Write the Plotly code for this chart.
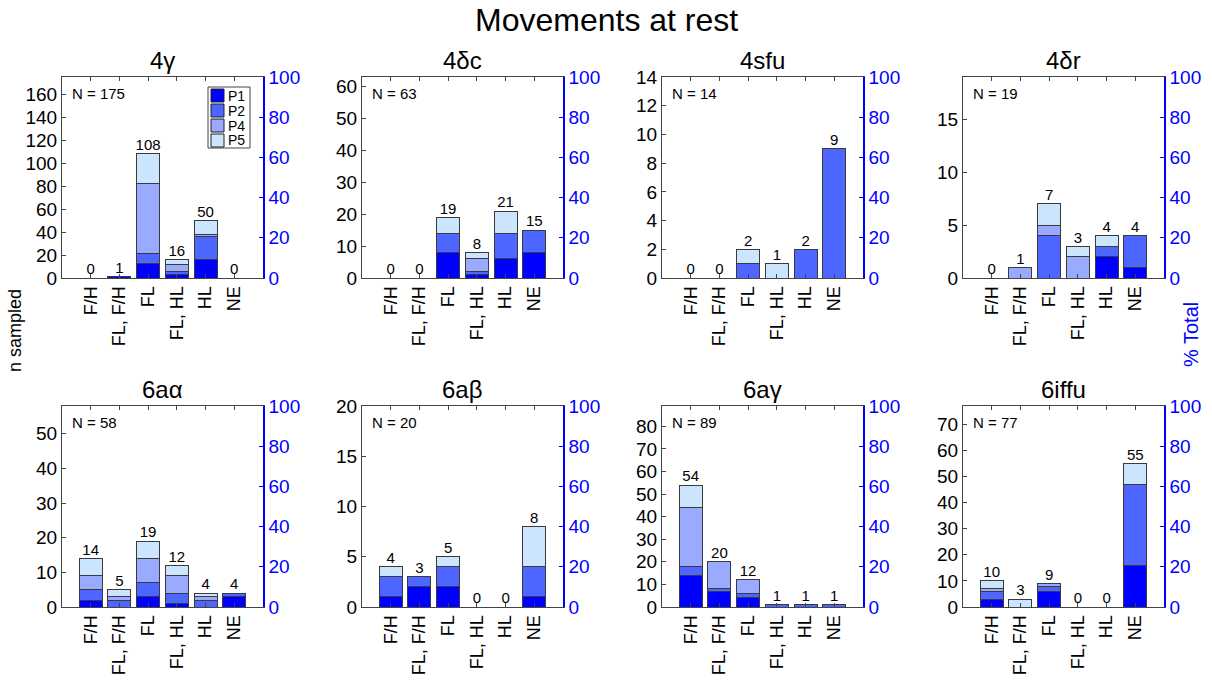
import plotly.graph_objects as go

categories = ["F/H", "FL, F/H", "FL", "FL, HL", "HL", "NE"]
series_names = ["P1", "P2", "P4", "P5"]
series_colors = ["#0000FF", "#4D66FF", "#99AAFF", "#CCE5FF"]

panel_titles = ["4γ", "4δc", "4sfu", "4δr", "6aα", "6aβ", "6aγ", "6iffu"]
panel_N = [175, 63, 14, 19, 58, 20, 89, 77]
panel_ticks = [
    [0, 20, 40, 60, 80, 100, 120, 140, 160],
    [0, 10, 20, 30, 40, 50, 60],
    [0, 2, 4, 6, 8, 10, 12, 14],
    [0, 5, 10, 15],
    [0, 10, 20, 30, 40, 50],
    [0, 5, 10, 15, 20],
    [0, 10, 20, 30, 40, 50, 60, 70, 80],
    [0, 10, 20, 30, 40, 50, 60, 70],
]
pct_ticks = [0, 20, 40, 60, 80, 100]

# values per panel: [P1, P2, P4, P5], each a list over categories
p_4g = [[0, 1, 13, 3, 16, 0], [0, 0, 8, 3, 20, 0], [0, 0, 61, 6, 2, 0], [0, 0, 26, 4, 12, 0]]
p_4dc = [[0, 0, 8, 1, 6, 8], [0, 0, 6, 1, 8, 7], [0, 0, 0, 4, 0, 0], [0, 0, 5, 2, 7, 0]]
p_4sfu = [[0, 0, 0, 0, 0, 0], [0, 0, 1, 0, 2, 9], [0, 0, 0, 0, 0, 0], [0, 0, 1, 1, 0, 0]]
p_4dr = [[0, 0, 0, 0, 2, 1], [0, 0, 4, 0, 1, 3], [0, 1, 1, 2, 0, 0], [0, 0, 2, 1, 1, 0]]
p_6aa = [[2, 0, 3, 1, 0, 3], [3, 2, 4, 3, 2, 1], [4, 1, 7, 5, 1, 0], [5, 2, 5, 3, 1, 0]]
p_6ab = [[1, 2, 2, 0, 0, 1], [2, 1, 2, 0, 0, 3], [0, 0, 0, 0, 0, 0], [1, 0, 1, 0, 0, 4]]
p_6ag = [[14, 7, 4, 0, 0, 0], [4, 1, 2, 1, 1, 1], [26, 12, 6, 0, 0, 0], [10, 0, 0, 0, 0, 0]]
p_6iffu = [[3, 0, 6, 0, 0, 16], [3, 0, 2, 0, 0, 31], [1, 0, 1, 0, 0, 0], [3, 3, 0, 0, 0, 8]]
panel_values = [p_4g, p_4dc, p_4sfu, p_4dr, p_6aa, p_6ab, p_6ag, p_6iffu]

W, H = 1212, 683
FONT = "Liberation Sans, Arial, sans-serif"
lefts = [62, 362, 662, 963]
width_px = 201
rows_tb = [(77, 278), (406, 607)]


def px(xp):
    return xp / W


def py(yp):
    return 1 - yp / H


fig = go.Figure()
layout = dict(
    width=W, height=H,
    margin=dict(l=0, r=0, t=0, b=0, autoexpand=False),
    paper_bgcolor="white", plot_bgcolor="white",
    barmode="stack",
    font=dict(family=FONT, size=17, color="black"),
    showlegend=False,
)
annotations = []
shapes = []

for i in range(8):
    r, c = divmod(i, 4)
    ax = "" if i == 0 else str(i + 1)
    xa, ya = "x" + ax, "y" + ax
    ya2_idx = 9 + i
    x0, x1 = lefts[c], lefts[c] + width_px
    t, b = rows_tb[r]
    vals = panel_values[i]
    for s in range(4):
        fig.add_trace(go.Bar(
            x=list(range(6)), y=vals[s], name=series_names[s],
            marker=dict(color=series_colors[s], line=dict(color="#3a3a3a", width=1)),
            width=0.8, xaxis=xa, yaxis=ya,
        ))
    totals = [sum(vals[s][k] for s in range(4)) for k in range(6)]
    fig.add_trace(go.Scatter(
        x=list(range(6)), y=totals, mode="text", text=[str(v) for v in totals],
        textposition="top center", textfont=dict(size=15, color="black"),
        xaxis=xa, yaxis=ya, cliponaxis=False, hoverinfo="skip",
    ))
    fig.add_trace(go.Scatter(
        x=[0], y=[0], mode="markers", marker=dict(opacity=0),
        xaxis=xa, yaxis="y" + str(ya2_idx), hoverinfo="skip",
    ))
    layout["xaxis" + ax] = dict(
        domain=[px(x0), px(x1)], anchor=ya, range=[-1, 6], automargin=False,
        tickmode="array", tickvals=list(range(6)), ticktext=categories,
        tickangle=-90, ticks="inside", ticklen=4, tickcolor="#444",
        showline=True, linecolor="#444", linewidth=1, mirror="ticks",
        showgrid=False, zeroline=False, tickfont=dict(size=18),
    )
    layout["yaxis" + ax] = dict(
        domain=[py(b), py(t)], anchor=xa, range=[0, panel_N[i]], automargin=False,
        tickmode="array", tickvals=panel_ticks[i],
        ticks="inside", ticklen=4, tickcolor="#444",
        showline=True, linecolor="#444", linewidth=1,
        showgrid=False, zeroline=False, tickfont=dict(size=19),
    )
    layout["yaxis" + str(ya2_idx)] = dict(
        overlaying=ya, anchor=xa, side="right", range=[0, 100], automargin=False,
        tickmode="array", tickvals=pct_ticks,
        ticks="inside", ticklen=4, tickcolor="blue",
        showline=True, linecolor="blue", linewidth=1.5,
        showgrid=False, zeroline=False, tickfont=dict(size=19, color="blue"),
    )
    annotations.append(dict(
        text=panel_titles[i], x=px((x0 + x1) / 2), y=py(t - 17),
        xref="paper", yref="paper", showarrow=False, font=dict(size=24),
        xanchor="center", yanchor="middle",
    ))
    annotations.append(dict(
        text="N = " + str(panel_N[i]), x=px(x0 + 8), y=py(t + 16),
        xref="paper", yref="paper", showarrow=False, font=dict(size=15),
        xanchor="left", yanchor="middle",
    ))

# manual legend in first panel
leg_box = (208, 250, 87, 148)
shapes.append(dict(type="rect", xref="paper", yref="paper",
                   x0=px(leg_box[0]), x1=px(leg_box[1]), y0=py(leg_box[3]), y1=py(leg_box[2]),
                   line=dict(color="#444", width=1), fillcolor="white", layer="above"))
for s in range(4):
    cy = 95.5 + 15 * s
    shapes.append(dict(type="rect", xref="paper", yref="paper",
                       x0=px(211), x1=px(224), y0=py(cy + 6.5), y1=py(cy - 6.5),
                       line=dict(color="#222", width=1), fillcolor=series_colors[s], layer="above"))
    annotations.append(dict(text=series_names[s], x=px(226), y=py(cy), xref="paper", yref="paper",
                            showarrow=False, font=dict(size=14), xanchor="left", yanchor="middle"))

annotations.append(dict(text="Movements at rest", x=0.5, y=py(20), xref="paper", yref="paper",
                        showarrow=False, font=dict(size=32), xanchor="center", yanchor="middle"))
annotations.append(dict(text="n sampled", x=px(15), y=py(331), xref="paper", yref="paper",
                        showarrow=False, font=dict(size=18), textangle=-90,
                        xanchor="center", yanchor="middle"))
annotations.append(dict(text="% Total", x=px(1191), y=py(335), xref="paper", yref="paper",
                        showarrow=False, font=dict(size=20, color="blue"), textangle=-90,
                        xanchor="center", yanchor="middle"))
layout["annotations"] = annotations
layout["shapes"] = shapes
fig.update_layout(**layout)
fig.write_html("out.html", config={"displayModeBar": False},
               post_script="document.body.style.margin='0';")
